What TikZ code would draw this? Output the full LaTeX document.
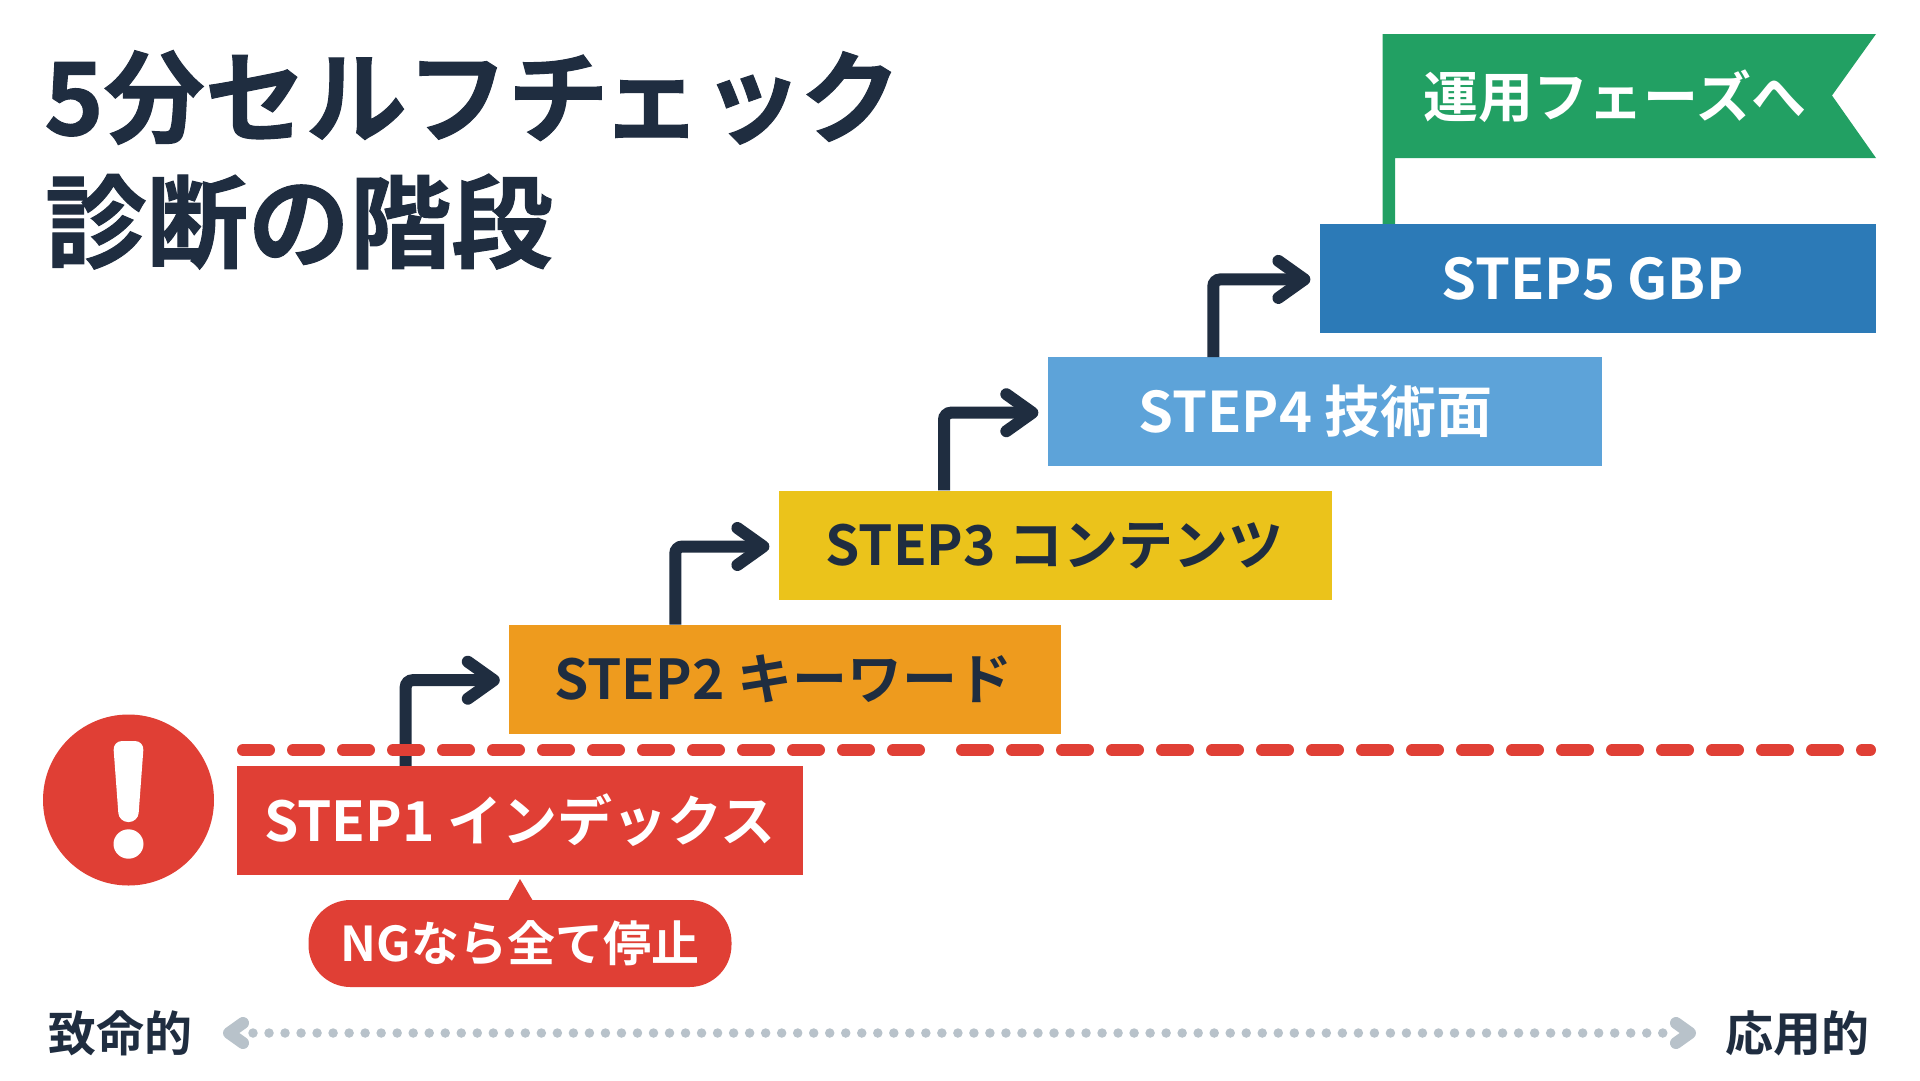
\documentclass[tikz,border=0pt]{standalone}
\usepackage{fontspec}
\usetikzlibrary{arrows.meta}
\setmainfont{Noto Sans CJK JP}[BoldFont={Noto Sans CJK JP Bold}]
\newfontfamily\cjk{Noto Sans CJK JP Bold}
\newfontfamily\cjkh[FakeBold=1]{Noto Sans CJK JP Bold}
\definecolor{navy}{HTML}{1F2D40}
\definecolor{cred}{HTML}{E03F35}
\definecolor{corange}{HTML}{EE9B1E}
\definecolor{cyellow}{HTML}{EBC31B}
\definecolor{clight}{HTML}{5DA3D9}
\definecolor{cblue}{HTML}{2C7AB7}
\definecolor{cgreen}{HTML}{22A063}
\definecolor{cgray}{HTML}{B8C2CA}
\newcommand{\fs}[1]{\fontsize{#1}{#1}\selectfont\cjk}
\newcommand{\stt}[3]{\hspace*{#1}\raisebox{-#2}[0pt][0pt]{#3}}
\tikzset{
  stepbox/.style={rectangle,inner sep=0pt,minimum height=109pt,font=\fs{56}},
  lbl/.style={inner sep=0pt,text=navy,font=\fs{48}},
  ttl/.style={inner sep=0pt,anchor=base west,text=navy},
  elbow/.style={draw=navy,line width=12pt,rounded corners=7pt,shorten >=9.4pt,
    -{Straight Barb[round,length=26pt,width=37pt,line width=12pt]}},
  redash/.style={draw=cred,line width=12pt,line cap=round,dash pattern=on 26pt off 24pt},
  dots/.style={draw=cgray,line width=9.5pt,line cap=round,dash pattern=on 0pt off 16.02pt},
  chev/.style={draw=cgray,line width=12pt,line cap=round,line join=round}
}
\begin{document}
\begin{tikzpicture}[x=1pt,y=-1pt]
\useasboundingbox (0,0) rectangle (1920,1080);
\fill[white] (0,0) rectangle (1920,1080);
% title
\node[ttl,font={\fontsize{101}{101}\selectfont\cjkh}] (t1) at (44,135) {5分セルフチ\kern-8ptェッ\kern-3ptク};
\node[ttl,font={\fontsize{101.5}{101.5}\selectfont\cjkh}] (t2) at (45,260) {診断の階段};
% flag
\fill[cgreen] (1382.5,34) -- (1876,34) -- (1832,95.5) -- (1876,158) -- (1395,158) -- (1395,224) -- (1382.5,224) -- cycle;
\node[inner sep=0pt,text=white,font=\fs{55}] (fl) at (1615,96) {運用フェーズへ};
% boxes
\node[stepbox,fill=cred,text=white,minimum width=566pt,font=\fs{55}] (s1) at (520,820.5) {\stt{0pt}{21pt}{STEP1 インデックス}};
\node[stepbox,fill=corange,text=navy,minimum width=551.6pt,font=\fs{55}] (s2) at (785.2,679.2) {\stt{-4pt}{20pt}{STEP2 キーワード}};
\node[stepbox,fill=cyellow,text=navy,minimum width=553pt,font=\fs{55}] (s3) at (1055.5,545) {\stt{-2pt}{20.3pt}{STEP3 コンテンツ}};
\node[stepbox,fill=clight,text=white,minimum width=553.7pt] (s4) at (1324.8,411.7) {\stt{-18pt}{20.6pt}{STEP4 技術面}};
\node[stepbox,fill=cblue,text=white,minimum width=556pt] (s5) at (1598,278.2) {\stt{-11pt}{20.8pt}{STEP5 GBP}};
% elbow connectors
\coordinate (a1) at (405.7,0);
\coordinate (a2) at (675.3,0);
\coordinate (a3) at (944,0);
\coordinate (a4) at (1213.3,0);
\draw[elbow] (a1 |- s1.north) |- ([yshift=-1pt]s2.west);
\draw[elbow] (a2 |- s2.north) |- ([yshift=-1.5pt]s3.west);
\draw[elbow] (a3 |- s3.north) |- ([yshift=-1pt]s4.west);
\draw[elbow] (a4 |- s4.north) |- ([yshift=-1.2pt]s5.west);
% red dashed line
\coordinate (d1) at (243,750);
\coordinate (d2) at (921,750);
\coordinate (d3) at (962,750);
\coordinate (d4) at (1870,750);
\draw[redash] (d1) -- (d2);
\draw[redash] (d3) -- (d4);
% warning
\node[circle,fill=cred,minimum size=171pt,inner sep=0pt] (warn) at (128.5,800) {};
\fill[white,rounded corners=9pt] (113,741) -- (144,741) -- (138,822) -- (119,822) -- cycle;
\fill[white] (128.5,844) ellipse (15pt and 14.7pt);
% callout
\node[rectangle,rounded corners=42pt,fill=cred,text=white,minimum width=423pt,minimum height=87pt,inner sep=0pt,font=\fs{48}] (ng) at (520,943.5) {NGなら全て停止};
\fill[cred] (508,901) -- (520,879) -- (533,901) -- cycle;
% axis
\node[lbl] (lft) at (120.5,1033) {致命的};
\node[lbl] (rgt) at (1797.5,1033) {応用的};
\coordinate (al) at (253,1033);
\coordinate (ar) at (1663,1033);
\draw[dots] (al) -- (ar);
\draw[chev] (243,1023) -- (229,1033) -- (243,1043);
\draw[chev] (1676,1023) -- (1690,1033) -- (1676,1043);
\end{tikzpicture}
\end{document}
